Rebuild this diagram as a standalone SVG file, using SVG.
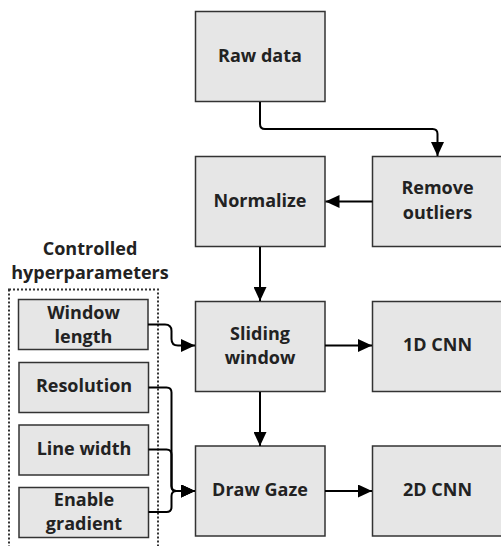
<svg xmlns="http://www.w3.org/2000/svg" width="501" height="546" viewBox="0 0 501 546">
<defs>
<style>
.box{fill:#e6e6e6;stroke:#333;stroke-width:1.5}
.t{font-family:"Open Sans","Liberation Sans",sans-serif;font-weight:bold;font-size:18px;fill:#222;text-anchor:middle}
.c{fill:none;stroke:#000;stroke-width:2}
</style>
<marker id="ah" markerWidth="14" markerHeight="13" refX="14" refY="6.5" orient="auto" markerUnits="userSpaceOnUse">
<path d="M0,0 L14,6.5 L0,13 Z" fill="#000"/>
</marker>
</defs>
<rect width="501" height="546" fill="#fff"/>
<g id="hyperparams">
<rect x="9" y="289.5" width="149" height="270" fill="none" stroke="#333" stroke-width="2" stroke-dasharray="2 2"/>
<text class="t" x="90" y="255">Controlled</text>
<text class="t" x="90" y="279">hyperparameters</text>
</g>
<g id="raw"><rect class="box" x="195.5" y="11.5" width="129.5" height="90"/><text class="t" x="260" y="62">Raw data</text></g>
<g id="normalize"><rect class="box" x="195.5" y="156.5" width="129.5" height="90"/><text class="t" x="260" y="207">Normalize</text></g>
<g id="outliers"><rect class="box" x="372.5" y="156.5" width="130" height="90"/><text class="t" x="437.5" y="194">Remove</text><text class="t" x="437.5" y="218.5">outliers</text></g>
<g id="sliding"><rect class="box" x="195.5" y="301.5" width="129.5" height="90"/><text class="t" x="260" y="339.5">Sliding</text><text class="t" x="260" y="364">window</text></g>
<g id="cnn1"><rect class="box" x="372.5" y="301.5" width="130" height="90"/><text class="t" x="437.5" y="351">1D CNN</text></g>
<g id="draw"><rect class="box" x="195.5" y="446" width="129.5" height="90"/><text class="t" x="260" y="496">Draw Gaze</text></g>
<g id="cnn2"><rect class="box" x="372.5" y="446" width="130" height="90"/><text class="t" x="437.5" y="496">2D CNN</text></g>
<g id="winlen"><rect class="box" x="18.5" y="299.5" width="129.5" height="50"/><text class="t" x="83.5" y="319">Window</text><text class="t" x="83.5" y="343">length</text></g>
<g id="resolution"><rect class="box" x="19" y="362.5" width="129.5" height="50"/><text class="t" x="84" y="392">Resolution</text></g>
<g id="linewidth"><rect class="box" x="19" y="425" width="129.5" height="50"/><text class="t" x="84" y="454.5">Line width</text></g>
<g id="gradient"><rect class="box" x="19" y="487.5" width="129.5" height="50"/><text class="t" x="84" y="506">Enable</text><text class="t" x="84" y="530">gradient</text></g>
<g id="connectors">
<path class="c" d="M260,102 V124 Q260,129 265,129 H432.5 Q437.5,129 437.5,134 V156" marker-end="url(#ah)"/>
<path class="c" d="M372.5,201.5 H325.5" marker-end="url(#ah)"/>
<path class="c" d="M260,247 V301" marker-end="url(#ah)"/>
<path class="c" d="M325,345.5 H372" marker-end="url(#ah)"/>
<path class="c" d="M260,392 V446" marker-end="url(#ah)"/>
<path class="c" d="M325,491 H372" marker-end="url(#ah)"/>
<path class="c" d="M148,324.5 H165 Q171.5,324.5 171.5,331 V339 Q171.5,345.5 178,345.5 H195" marker-end="url(#ah)"/>
<path class="c" d="M148.5,387.5 H166.5 Q171.5,387.5 171.5,392.5 V486 Q171.5,491 176.5,491 H195" marker-end="url(#ah)"/>
<path class="c" d="M148.5,449.5 H166.5 Q171.5,449.5 171.5,454.5 V486 Q171.5,491 176.5,491 H195" marker-end="url(#ah)"/>
<path class="c" d="M148.5,512 H166.5 Q171.5,512 171.5,507 V496 Q171.5,491 176.5,491 H195" marker-end="url(#ah)"/>
</g>
</svg>
